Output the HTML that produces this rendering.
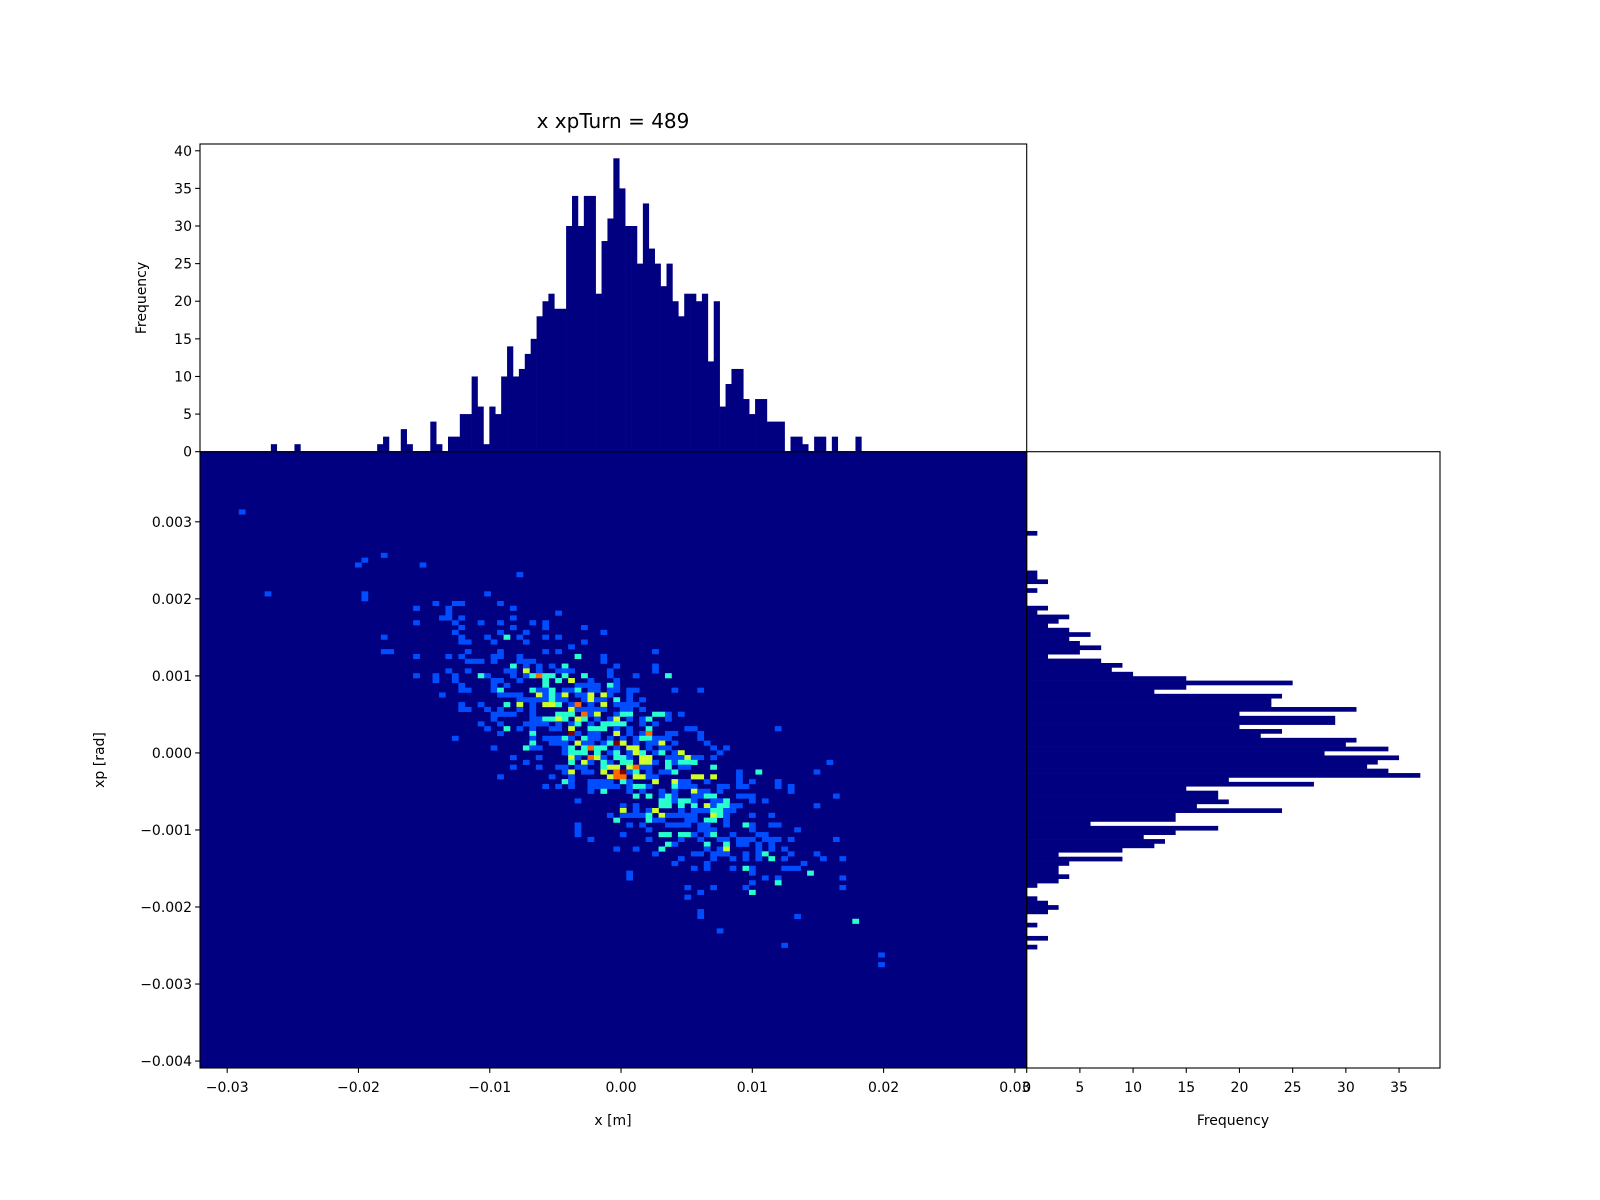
<!DOCTYPE html>
<html><head><meta charset="utf-8"><style>
html,body{margin:0;padding:0;background:#fff;}
svg{display:block;font-family:"DejaVu Sans","Liberation Sans",sans-serif;}
</style></head>
<body>
<svg id="fig" width="1600" height="1200" viewBox="0 0 1600 1200" xmlns="http://www.w3.org/2000/svg">
<rect width="1600" height="1200" fill="#fff"/>
<text x="613" y="128" font-size="20" text-anchor="middle">x xpTurn = 489</text>
<g id="main"></g><g id="top"></g><g id="right"></g><g id="axes"></g>
</svg>
<script>
// ---- data ----
const xTicks = [-0.03,-0.02,-0.01,0.00,0.01,0.02,0.03];
const xTickLabels = ["\u22120.03","\u22120.02","\u22120.01","0.00","0.01","0.02","0.03"];
const yTicks = [-0.004,-0.003,-0.002,-0.001,0.000,0.001,0.002,0.003];
const yTickLabels = ["\u22120.004","\u22120.003","\u22120.002","\u22120.001","0.000","0.001","0.002","0.003"];
const freqTicksTop = [0,5,10,15,20,25,30,35,40];
const freqTicksRight = [0,5,10,15,20,25,30,35];
// x histogram counts (140 bins, increasing x)
const xCounts = [
0,0,0,0,0,0,0,0,0,0, 0,0,1,0,0,0,1,0,0,0, 0,0,0,0,0,0,0,0,0,0,
1,2,0,0,3,1,0,0,0,4, 1,0,2,2,5,5,10,6,1,6, 5,10,14,10,11,13,15,18,20,21,
19,19,30,34,30,34,34,21,28,31, 39,35,30,30,25,33,27,25,22,25, 20,18,21,21,20,21,12,20,6,9,
11,11,7,5,7,7,4,4,4,0, 2,2,1,0,2,2,0,2,0,0, 0,2,0,0,0,0,0,0,0,0,
0,0,0,0,0,0,0,0,0,0, 0,0,0,0,0,0,0,0,0,0];
// xp histogram counts (140 bins, listed from highest xp down)
const xpCountsTopDown = [
0,0,0,0,0,0,0,0,0,0, 0,0,0,0,0,0,0,0,1,0, 0,0,0,0,0,0,0,1,1,2,
0,1,0,0,0,2,1,4,3,2, 4,6,4,5,7,5,2,7,9,8, 10,15,25,15,12,24,23,23,31,20,
29,29,20,24,22,31,30,34,28,35, 33,32,34,37,19,27,15,18,18,19, 16,24,14,14,6,18,14,11,13,12,
9,3,9,4,3,3,4,3,1,0, 0,1,2,3,2,0,0,1,0,0, 2,0,1,0,0,0,0,0,0,0,
0,0,0,0,0,0,0,0,0,0, 0,0,0,0,0,0,0,0,0,0];
// 2D histogram: rows listed [rowFromTop, "col col:count ..."] on 128x128 bins
const heatRows = [
[12,"6"],[21,"28"],[22,"25"],[23,"24 34"],[25,"49"],[29,"10 25 44"],[30,"25"],
[31,"36 39 40 46"],[32,"33 38 48"],[33,"38 55"],[34,"37 38 40 48"],[35,"33 39 43 46 51 53"],
[36,"40 48 53 59"],[37,"39 46 50 62"],[38,"28 40 44 47:2 49 53 55"],[39,"40 41 45 50 59"],[40,"57"],
[41,"28 29 41 46 53 55 70"],[42,"33 38 40 45 46 49 58:2 62"],[43,"41 42 43 45 49 50 51 62"],
[44,"48:2 50 52 54 56:2 64 70"],[45,"38 41 47 48 50:3 52 55 56 57 63 70"],
[46,"33 36 39 43:2 44 48 50 51:2 52:4 53:2 54:2 56:2 59:2 63 67 72:2"],
[47,"36 39 45 46 49 53:2 55:2 57:3 60 64"],[48,"40 45 47 53:2 58 59 60 61 63:2 64"],
[49,"40 41 45 46:2 51:2 52 53 54:2 56 57 58:2 60 61 63 64 66 67 73 77"],
[50,"37 46 47 48 49 52:3 53 54:2 55 56:3 58 59 60:3 62:3 63 66"],
[51,"49 50 51 52 53 54:2 55 56 59 60:3 61 62 64:2 66 68"],
[52,"40 43 47:2 49:3 51 53:3 54:3 55:2 57 58:4 60 62:3 64 65 66 67"],
[53,"40 41 44 46 49 51 57:3 58 59 60 61 62 65 66 68"],
[54,"45 46 47 48 51 55:2 56:2 57:2 59:4 60 61:3 64 65:2 66:2 70:2 71:2 72 74"],
[55,"45 51 52 53:2 54:2 55:3 56:2 58:3 59:2 61 63 64:3 66 68 69:2 72"],
[56,"43 46 50 51 52 53 55 57 58:2 60 62:2 63:2 64:2 65:2 68 70"],
[57,"44 47:2 49 51 54 55 57:3 60:2 61:2 62:2 64 66 69:2 75 76 89"],
[58,"46 51:2 57:5 58 60 61 64:3 66 68 69:4 72 73 77"],
[59,"39 51 53 54 55 56:2 57 59:2 60 61 63 65 67 68:2 69:2 70 71 72 77"],
[60,"51:2 54 55 56 58:3 59 60 62 63:2 64:5 65:3 67 69 70 71:3 73 78"],
[61,"45 50:2 51 52 56 57:2 59:2 60:4 61:2 62:2 64 66:3 67:3 69 71 72 79 81"],
[62,"56 57:2 58:2 59:2 61:2 63 64:2 66 67:3 68:2 70 71:2 73 74:3 80"],
[63,"48 52 57:3 58 60:4 61:3 62 64:2 65:2 66 68:3 69:3 72 73 74 75:3 76 77 79"],
[64,"50 57:2 59:3 60 62:2 63 65:2 66:2 68:3 69:3 70 72:2 73 74:2 75:2 76:2 97"],
[65,"48 52 55 56 58 59 62:2 63:3 64:3 66:3 67:4 68 69 72:2 74 75 79:2"],
[66,"56 57:3 59 60 62:3 64:4 65:5 66 67:2 69 71 72 73:2 83 86:2 95"],
[67,"46 54 57 63:3 64:4 65:4 67:3 68:3 69 70 76:3 77:3 79:3 83"],
[68,"56:2 57 60 61 62 63 65:2 66 70:3 73:3 74 75 78 83 85 89"],
[69,"53 55 57 60 61 62 63 64 66 67:2 68:2 69 73:2 74 75 76 80 81 83 84 89 91"],
[70,"60 62:2 66 68 71 73 76:3 77 78 80 91"],
[71,"67:2 69:2 71 72:2 73 76 77 78:2 79:2 83 84 85 98"],
[72,"58 71:2 72:2 73 74:2 75:2 76 79 80 81:2 85 87"],
[73,"65 67 71:2 72:2 74:2 76:2 78:3 79 80:2 81:2 82 83 95"],
[74,"65:3 67 69 70:3 74 76 77 78 79:2 80:2 81 82"],
[75,"63 65 66 67 68 69:2 71:3 72 73 74 75 76 79:3 80:2 81 85 88"],
[76,"64:2 69:2 70 71 75 76 78:2 79:2 81"],
[77,"58 66 68 72 73 74 75 77 78 81 84:2 85 88 89"],
[78,"58 69 77 78 79 85 92"],
[79,"58 65 71:2 72:2 74:2 75:2 76 78 79:2 82 86 87"],
[80,"60 69 74 77 80 81 83 84 85 87 88 89 91 98"],
[81,"72:2 73 78:2 81:2 83 84 86 88"],
[82,"64 67 71:2 78 80 81:3 86 88 90"],
[83,"70 76 77 79 80 81 84 86 87:2 91 95"],
[84,"74 79 82 84 86 88:2 90 96 99"],
[85,"73 78 93"],[86,"76 78 82 84:2 85 90 91 92"],[87,"66 85 94:2"],[88,"66 87 89 99"],
[89,"85 89:2"],[90,"75 79 84 99"],[91,"77 85:2"],[92,"75"],[95,"77"],[96,"77 92"],
[97,"101:2"],[99,"80"],[102,"90"],[104,"105"],[106,"105"]];
const colorMax = 5;

// ---- geometry ----
const L=200, R=1026.7, T=451.7, B=1068, TOPT=144, RR=1440;
const xMin=-0.03207, xMax=0.0309, yMin=-0.00409, yMax=0.00391;
const topMax=40.9, rightMax=38.85;
const L2 = R;
const X = v => L + (v-xMin)/(xMax-xMin)*(R-L);
const Y = v => B - (v-yMin)/(yMax-yMin)*(B-T);
const FT = v => T - v/topMax*(T-TOPT);
const FR = v => L2 + v/rightMax*(RR-L2);
const NS='http://www.w3.org/2000/svg';
function mk(tag, attrs, parent){const e=document.createElementNS(NS,tag);for(const k in attrs)e.setAttribute(k,attrs[k]);parent.appendChild(e);return e;}
function interp(pts,x){for(let i=1;i<pts.length;i++){if(x<=pts[i][0]){const a=pts[i-1],b=pts[i];return a[1]+(b[1]-a[1])*(x-a[0])/(b[0]-a[0]);}}return pts[pts.length-1][1];}
function jet(t){
  const r=interp([[0,0],[0.35,0],[0.66,1],[0.89,1],[1,0.5]],t);
  const g=interp([[0,0],[0.125,0],[0.375,1],[0.64,1],[0.91,0],[1,0]],t);
  const b=interp([[0,0.5],[0.11,1],[0.34,1],[0.65,0],[1,0]],t);
  return `rgb(${Math.round(r*255)},${Math.round(g*255)},${Math.round(b*255)})`;
}
const gMain=document.getElementById('main'), gTop=document.getElementById('top'), gRight=document.getElementById('right'), gAx=document.getElementById('axes');

// main heatmap
const bg=mk('rect',{x:L,y:T,width:R-L,height:B-T,fill:jet(0)},gMain);


const N2=128, cw=(xMax-xMin)/N2, ch=(yMax-yMin)/N2;
heatRows.forEach(([row,spec])=>{
  spec.split(' ').forEach(tok=>{
    const [c,v]=tok.split(':'); const col=+c, val=v?+v:1;
    const x0=X(xMin+col*cw), x1=X(xMin+(col+1)*cw);
    const y0=Y(yMax-row*ch), y1=Y(yMax-(row+1)*ch);
    const r=mk('rect',{x:x0.toFixed(2),y:y0.toFixed(2),width:(x1-x0+0.3).toFixed(2),height:(y1-y0+0.3).toFixed(2),fill:jet(val/colorMax)},gMain);
    
    
  });
});
// top histogram
const NB=140, bw=(xMax-xMin)/NB, bh=(yMax-yMin)/NB;
xCounts.forEach((c,i)=>{ if(!c) return;
  const x0=X(xMin+i*bw), x1=X(xMin+(i+1)*bw);
  const r=mk('rect',{x:x0.toFixed(2),y:FT(c).toFixed(2),width:(x1-x0+0.3).toFixed(2),height:(T-FT(c)).toFixed(2),fill:'#000080'},gTop);
  
  
});
// right histogram
xpCountsTopDown.forEach((c,i)=>{ if(!c) return;
  const y0=Y(yMax-i*bh), y1=Y(yMax-(i+1)*bh);
  const r=mk('rect',{x:L2,y:y0.toFixed(2),width:(FR(c)-L2).toFixed(2),height:(y1-y0+0.3).toFixed(2),fill:'#000080'},gRight);
  
  
});
// spines
function box(x,y,w,h,name){const r=mk('rect',{x,y,width:w,height:h,fill:'none',stroke:'#000','stroke-width':1.1},gAx);}
box(L,TOPT,R-L,T-TOPT,'x-hist-frame');
box(L,T,R-L,B-T,'heatmap-frame');
box(L2,T,RR-L2,B-T,'xp-hist-frame');
function tick(x1,y1,x2,y2){mk('line',{x1,y1,x2,y2,stroke:'#000','stroke-width':1.1},gAx);}
function label(x,y,t,anchor,name){const e=mk('text',{x,y,'font-size':14,'text-anchor':anchor},gAx);e.textContent=t;return e;}
xTicks.forEach((v,i)=>{const x=X(v);tick(x,B,x,B+4.9);label(x,B+24,xTickLabels[i],'middle','x-tick-label');});
yTicks.forEach((v,i)=>{const y=Y(v);tick(L,y,L-4.9,y);label(L-8,y+5,yTickLabels[i],'end','y-tick-label');});
freqTicksTop.forEach(v=>{const y=FT(v);tick(L,y,L-4.9,y);label(L-8,y+5,String(v),'end','x-hist-freq-tick');});
freqTicksRight.forEach(v=>{const x=FR(v);tick(x,B,x,B+4.9);label(x,B+24,String(v),'middle','xp-hist-freq-tick');});
label(613,1125,'x [m]','middle','x-axis-title');
label(1233,1125,'Frequency','middle','xp-hist-axis-title');
const yl=label(0,0,'xp [rad]','middle','y-axis-title'); yl.setAttribute('transform','translate(104,760) rotate(-90)');
const fl=label(0,0,'Frequency','middle','x-hist-axis-title'); fl.setAttribute('transform','translate(146,298) rotate(-90)');
</script>
</body></html>
